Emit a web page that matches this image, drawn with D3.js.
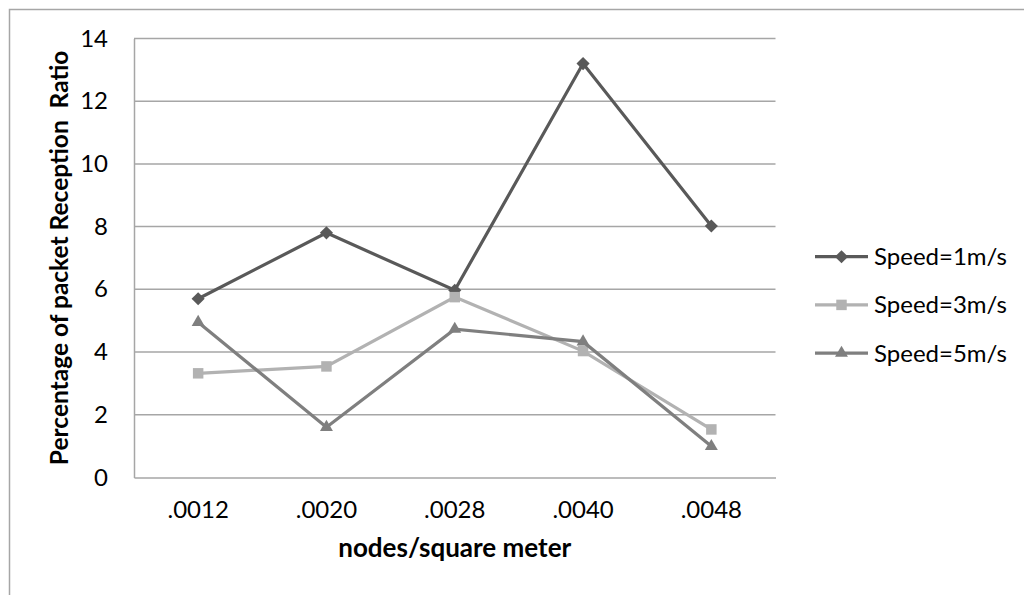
<!DOCTYPE html>
<html>
<head>
<meta charset="utf-8">
<script src="https://cdn.jsdelivr.net/npm/d3@7"></script>
<style>
  body { margin: 0; background: #fff; }
  text { font-family: Lato, "Open Sans", sans-serif; fill: #000; }
</style>
</head>
<body>
<div id="chart"></div>
<script>
// data
var categories = [".0012", ".0020", ".0028", ".0040", ".0048"];
var speed1 = [5.7, 7.8, 5.97, 13.2, 8.02];
var speed3 = [3.32, 3.54, 5.75, 4.03, 1.53];
var speed5 = [4.95, 1.6, 4.73, 4.33, 0.99];
var seriesNames = ["Speed=1m/s", "Speed=3m/s", "Speed=5m/s"];
var yTicks = [0, 2, 4, 6, 8, 10, 12, 14];

var width = 1024, height = 595;
var plotLeft = 134, plotRight = 775.5, plotTop = 38.5, plotBottom = 477.4;

var svg = d3.select("#chart").append("svg")
    .attr("width", width)
    .attr("height", height);

// outer frame, runs off the right and bottom edges
svg.append("rect")
    .attr("x", 9.5).attr("y", 9.5)
    .attr("width", 1100).attr("height", 700)
    .attr("fill", "none").attr("stroke", "#a6a6a6").attr("stroke-width", 1.5);

var x = d3.scaleBand().domain(categories).range([plotLeft, plotRight]);
var y = d3.scaleLinear().domain([0, 14]).range([plotBottom, plotTop]);

// gridlines
svg.append("g").selectAll("line")
    .data(yTicks.slice(1))
    .enter().append("line")
    .attr("x1", plotLeft).attr("x2", plotRight)
    .attr("y1", function (d) { return y(d); })
    .attr("y2", function (d) { return y(d); })
    .attr("stroke", "#a6a6a6").attr("stroke-width", 1.5);

// y axis
var yAxis = svg.append("g")
    .attr("transform", "translate(" + plotLeft + ",0)")
    .call(d3.axisLeft(y).tickValues(yTicks).tickSize(0).tickPadding(26));
yAxis.select(".domain").attr("stroke", "#a6a6a6").attr("stroke-width", 1.5);
yAxis.selectAll("text").attr("font-size", 24).attr("font-family", "Lato").attr("fill", "#000");

// x axis
var xAxis = svg.append("g")
    .attr("transform", "translate(0," + plotBottom + ")")
    .call(d3.axisBottom(x).tickSize(0).tickPadding(24));
xAxis.select(".domain").attr("stroke", "#a6a6a6").attr("stroke-width", 1.5);
xAxis.selectAll("text").attr("font-size", 24).attr("font-family", "Lato").attr("fill", "#000");

// axis titles
svg.append("text")
    .attr("transform", "translate(68," + ((plotTop + plotBottom) / 2) + ") rotate(-90)")
    .attr("text-anchor", "middle")
    .attr("font-size", 24.5).attr("font-weight", "bold")
    .text("Percentage of packet Reception\u00a0 Ratio");

svg.append("text")
    .attr("x", (plotLeft + plotRight) / 2).attr("y", 557)
    .attr("text-anchor", "middle")
    .attr("font-size", 26).attr("font-weight", "bold")
    .text("nodes/square meter");

// series
var series = [
  { name: seriesNames[0], values: speed1, color: "#595959", symbol: d3.symbolDiamond2, size: 110 },
  { name: seriesNames[1], values: speed3, color: "#b2b2b2", symbol: d3.symbolSquare2, size: 140 },
  { name: seriesNames[2], values: speed5, color: "#7f7f7f", symbol: d3.symbolTriangle2, size: 120 }
];

var line = d3.line()
    .x(function (d, i) { return x(categories[i]) + x.bandwidth() / 2; })
    .y(function (d) { return y(d); });

function symbolPath(s) {
  return d3.symbol().type(s.symbol).size(s.size)();
}

series.forEach(function (s) {
  svg.append("path")
      .attr("d", line(s.values))
      .attr("fill", "none")
      .attr("stroke", s.color)
      .attr("stroke-width", 3.2);
  svg.append("g").selectAll("path")
      .data(s.values)
      .enter().append("path")
      .attr("transform", function (d, i) {
        return "translate(" + (x(categories[i]) + x.bandwidth() / 2) + "," + y(d) + ")";
      })
      .attr("d", symbolPath(s))
      .attr("fill", s.color);
});

// legend
var legend = svg.append("g").selectAll("g")
    .data(series)
    .enter().append("g")
    .attr("transform", function (d, i) { return "translate(815," + (256.7 + i * 48.2) + ")"; });
legend.append("line")
    .attr("x1", 0).attr("x2", 53)
    .attr("stroke", function (d) { return d.color; })
    .attr("stroke-width", 3.2);
legend.append("path")
    .attr("transform", "translate(26.5,0)")
    .attr("d", function (d) { return symbolPath(d); })
    .attr("fill", function (d) { return d.color; });
legend.append("text")
    .attr("x", 59).attr("dy", "0.35em")
    .attr("font-size", 24)
    .text(function (d) { return d.name; });
</script>
</body>
</html>
